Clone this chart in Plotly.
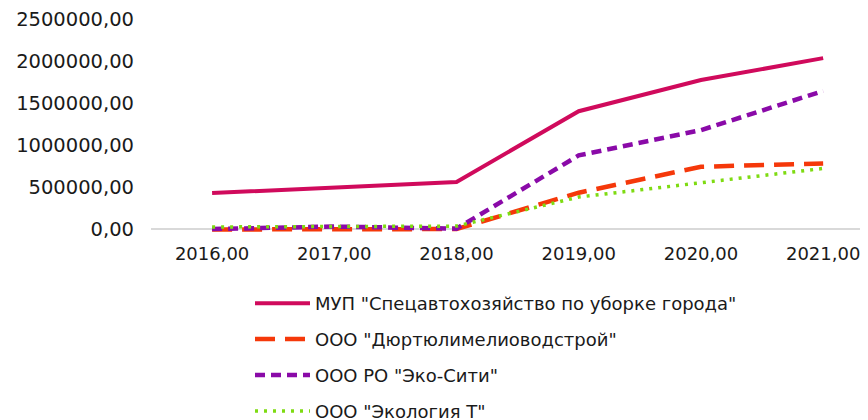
import plotly.graph_objects as go

years = ["2016,00", "2017,00", "2018,00", "2019,00", "2020,00", "2021,00"]
mup = [432000, 500000, 565000, 1405000, 1775000, 2035000]
dyurt = [0, 0, 5000, 437000, 745000, 785000]
eko_siti = [5000, 35000, 10000, 880000, 1180000, 1645000]
ekologiya = [30000, 30000, 40000, 385000, 560000, 725000]

names = ['МУП "Спецавтохозяйство по уборке города"',
         'ООО "Дюртюлимелиоводстрой"',
         'ООО РО "Эко-Сити"',
         'ООО "Экология Т"']

y_tickvals = [0, 500000, 1000000, 1500000, 2000000, 2500000]
y_ticktext = ["0,00", "500000,00", "1000000,00", "1500000,00", "2000000,00", "2500000,00"]

xs = list(range(len(years)))
FONT = "DejaVu Sans"

fig = go.Figure()
styles = [
    (mup, "#D00A5C", 4, "solid"),
    (dyurt, "#F5380A", 4.5, "20px,10px"),
    (eko_siti, "#8A0AA8", 4.5, "10px,6px"),
    (ekologiya, "#7EDB12", 3.5, "3px,6px"),
]
for i, (vals, col, w, dash) in enumerate(styles):
    fig.add_trace(go.Scatter(
        x=xs, y=vals, mode="lines", name=names[i], legendgroup=str(i),
        line=dict(color=col, width=w, dash=dash),
    ))

W, H = 860, 412
fig.update_layout(
    width=W, height=H,
    margin=dict(l=143, r=0, t=11, b=188, autoexpand=False),
    paper_bgcolor="white", plot_bgcolor="white",
    font=dict(family=FONT, size=18, color="#1a1a1a"),
    showlegend=True,
    legend=dict(
        orientation="v", xref="container", yref="container",
        x=242/W, y=1-277/H, xanchor="left", yanchor="top",
        font=dict(family=FONT, size=18, color="#1a1a1a"),
        tracegroupgap=9.5, itemwidth=55, bgcolor="rgba(0,0,0,0)",
    ),
    xaxis=dict(
        range=[-0.5, 5.367], tickvals=xs, ticktext=years,
        showgrid=False, zeroline=False, showline=False, ticks="",
        tickfont=dict(family=FONT, size=18), ticklabelstandoff=9,
        ticklabeloverflow="allow",
    ),
    yaxis=dict(
        range=[-30000, 2500000], tickvals=y_tickvals, ticktext=y_ticktext,
        showgrid=False, zeroline=True, zerolinecolor="#d9d9d9", zerolinewidth=1.5,
        showline=False, ticks="", ticklabelstandoff=16,
        tickfont=dict(family=FONT, size=19.5), ticklabeloverflow="allow",
    ),
)

fig.write_html("out.html")
